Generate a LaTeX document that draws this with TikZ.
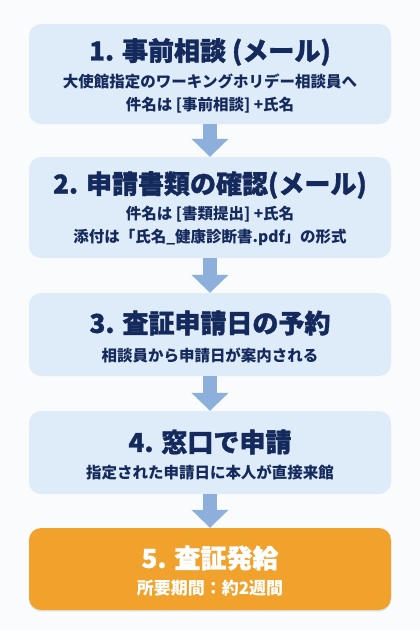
\documentclass[tikz,border=0pt]{standalone}
\usepackage{fontspec}
\setmainfont{Noto Sans CJK JP}
\newfontfamily\heavyjp{Noto Sans CJK JP}[BoldFeatures={FakeBold=1.3}]
\usetikzlibrary{arrows.meta,shadows}
\definecolor{boxblue}{HTML}{DEEBF8}
\definecolor{navy}{HTML}{152A5C}
\definecolor{arrowblue}{HTML}{8CB0DB}
\definecolor{orangebox}{HTML}{F0A22D}
\definecolor{pagebg}{HTML}{FAFBFC}

\begin{document}
\begin{tikzpicture}[x=1pt,y=1pt,
  stepbox/.style={rectangle,rounded corners=12pt,fill=boxblue,minimum width=362pt,inner sep=0pt},
  lastbox/.style={stepbox,fill=orangebox,drop shadow={opacity=0.18,shadow xshift=0pt,shadow yshift=-1.5pt}},
  steptitle/.style={text=navy,font=\fontsize{26}{30}\selectfont\heavyjp\bfseries,inner sep=0pt},
  stepnote/.style={text=navy,font=\fontsize{15.5}{22.5}\selectfont\bfseries,align=center,inner sep=0pt},
  flow/.style={draw=arrowblue,line width=14pt,-{Triangle[width=36pt,length=18pt]}}]
\fill[pagebg] (0,0) rectangle (420,-630);
\useasboundingbox (0,0) rectangle (420,-630);

\node[stepbox,minimum height=100pt] (s1) at (210,-74) {};
\node[steptitle] (t1) at (210,-52) {1. 事前相談 (メール)};
\node[stepnote] (n1) at (210,-93.5) {大使館指定のワーキングホリデー相談員へ\\件名は [事前相談] +氏名};

\node[stepbox,minimum height=101pt] (s2) at (210,-207.5) {};
\node[steptitle] (t2) at (210,-185) {2. 申請書類の確認(メール)};
\node[stepnote] (n2) at (210,-226) {件名は [書類提出] +氏名\\添付は「氏名\_健康診断書.pdf」の形式};

\node[stepbox,minimum height=83pt] (s3) at (210,-334.5) {};
\node[steptitle] (t3) at (210,-323) {3. 査証申請日の予約};
\node[stepnote] (n3) at (210,-355) {相談員から申請日が案内される};

\node[stepbox,minimum height=83pt] (s4) at (210,-452.5) {};
\node[steptitle] (t4) at (210,-442) {4. 窓口で申請};
\node[stepnote] (n4) at (210,-472) {指定された申請日に本人が直接来館};

\node[lastbox,minimum height=82pt] (s5) at (210,-569) {};
\node[steptitle,text=white] (t5) at (210,-558) {5. 査証発給};
\node[stepnote,text=white,font=\fontsize{17}{20}\selectfont\bfseries] (n5) at (210,-588) {所要期間：約2週間};

\draw[flow] (s1.south) -- (s2.north);
\draw[flow] (s2.south) -- (s3.north);
\draw[flow] (s3.south) -- (s4.north);
\draw[flow] (s4.south) -- (s5.north);
\end{tikzpicture}
\end{document}
